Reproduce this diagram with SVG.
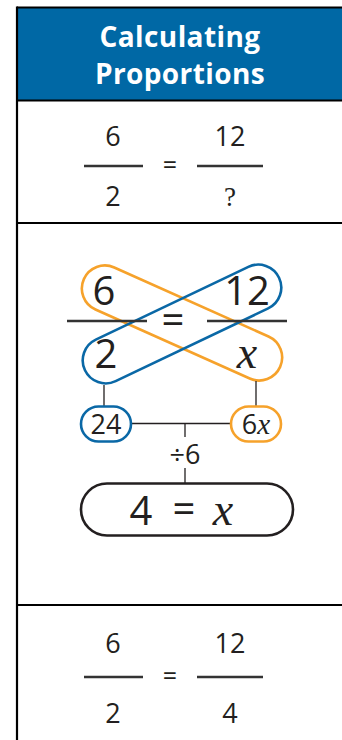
<svg xmlns="http://www.w3.org/2000/svg" width="342" height="740" viewBox="0 0 342 740">
<style>
.t{font-family:"Open Sans","Noto Sans","DejaVu Sans",sans-serif;fill:#231f20;text-anchor:middle}
.s{font-family:"Liberation Serif","DejaVu Serif",serif;font-style:italic;fill:#231f20}
.h{font-family:"Open Sans","Noto Sans","DejaVu Sans",sans-serif;fill:#fff;font-weight:700;font-size:28px;letter-spacing:0.4px;text-anchor:middle}
.bar{stroke:#333;stroke-width:2.5}
.grid{stroke:#000;stroke-width:2.2;fill:none}
.ln{stroke:#231f20;stroke-width:1.3;fill:none}
</style>
<rect x="0" y="0" width="342" height="740" fill="#fff"/>
<g id="header">
<rect x="18" y="8" width="324" height="92" fill="#0068a5"/>
<text x="180" y="46.5" class="h">Calculating</text>
<text x="180" y="83.5" class="h">Proportions</text>
</g>
<g id="grid">
<line x1="17" y1="7.5" x2="342" y2="7.5" class="grid"/>
<line x1="17" y1="6.5" x2="17" y2="740" class="grid"/>
<line x1="17" y1="100.5" x2="342" y2="100.5" class="grid"/>
<line x1="17" y1="223" x2="342" y2="223" class="grid"/>
<line x1="17" y1="605" x2="342" y2="605" class="grid"/>
</g>
<g id="row1">
<text x="113" y="146" class="t" font-size="27">6</text>
<line x1="84" y1="166" x2="143" y2="166" class="bar"/>
<text x="113" y="206" class="t" font-size="27">2</text>
<text x="170" y="174" class="t" font-size="25">=</text>
<text x="230" y="146" class="t" font-size="27">12</text>
<line x1="197" y1="166" x2="263" y2="166" class="bar"/>
<text x="230" y="206" font-size="27" style="font-family:'Liberation Serif',serif;fill:#231f20;text-anchor:middle">?</text>
</g>
<g id="loops">
<rect x="74.5" y="300" width="215" height="46" rx="23" fill="none" stroke="#f6a22b" stroke-width="2.6" transform="rotate(24.1 182 323)"/>
<rect x="74.5" y="301" width="215" height="46" rx="23" fill="none" stroke="#0a68a6" stroke-width="2.6" transform="rotate(-25.5 182 324)"/>
</g>
<g id="row2">
<line x1="67" y1="321" x2="147" y2="321" class="bar"/>
<line x1="207" y1="321" x2="287" y2="321" class="bar"/>
<text x="104" y="305" class="t" font-size="40">6</text>
<text x="247" y="305" class="t" font-size="40">12</text>
<text x="106" y="368" class="t" font-size="40">2</text>
<text x="247" y="368" class="s" font-size="46" text-anchor="middle">x</text>
<text x="173" y="334" class="t" font-size="40">=</text>
</g>
<g id="connectors">
<line x1="104" y1="385" x2="104" y2="407" class="ln"/>
<line x1="256" y1="381" x2="256" y2="407" class="ln"/>
<line x1="131" y1="423.5" x2="231" y2="423.5" class="ln"/>
<line x1="185" y1="423.5" x2="185" y2="437" class="ln"/>
<line x1="185" y1="468" x2="185" y2="483" class="ln"/>
</g>
<g id="n24">
<rect x="81" y="406.5" width="50" height="35" rx="17.5" fill="#fff" stroke="#0a68a6" stroke-width="2.6"/>
<text x="106" y="433.5" class="t" font-size="27">24</text>
</g>
<g id="n6x">
<rect x="231" y="406.5" width="50" height="35" rx="17.5" fill="#fff" stroke="#f6a22b" stroke-width="2.6"/>
<text x="256" y="433.5" class="t" font-size="27">6<tspan class="s" font-size="29">x</tspan></text>
</g>
<g id="div6">
<text x="185" y="463.5" class="t" font-size="27">÷6</text>
</g>
<g id="result">
<rect x="81" y="483.5" width="212" height="52" rx="26" fill="#fff" stroke="#231f20" stroke-width="2.6"/>
<text x="141" y="525" class="t" font-size="40">4</text>
<text x="184" y="523" class="t" font-size="40">=</text>
<text x="223" y="525" class="s" font-size="46" text-anchor="middle">x</text>
</g>
<g id="row4">
<text x="113" y="653" class="t" font-size="27">6</text>
<line x1="84" y1="677" x2="143" y2="677" class="bar"/>
<text x="113" y="723" class="t" font-size="27">2</text>
<text x="170" y="685" class="t" font-size="25">=</text>
<text x="230" y="653" class="t" font-size="27">12</text>
<line x1="197" y1="677" x2="263" y2="677" class="bar"/>
<text x="230" y="723" class="t" font-size="27">4</text>
</g>
</svg>
